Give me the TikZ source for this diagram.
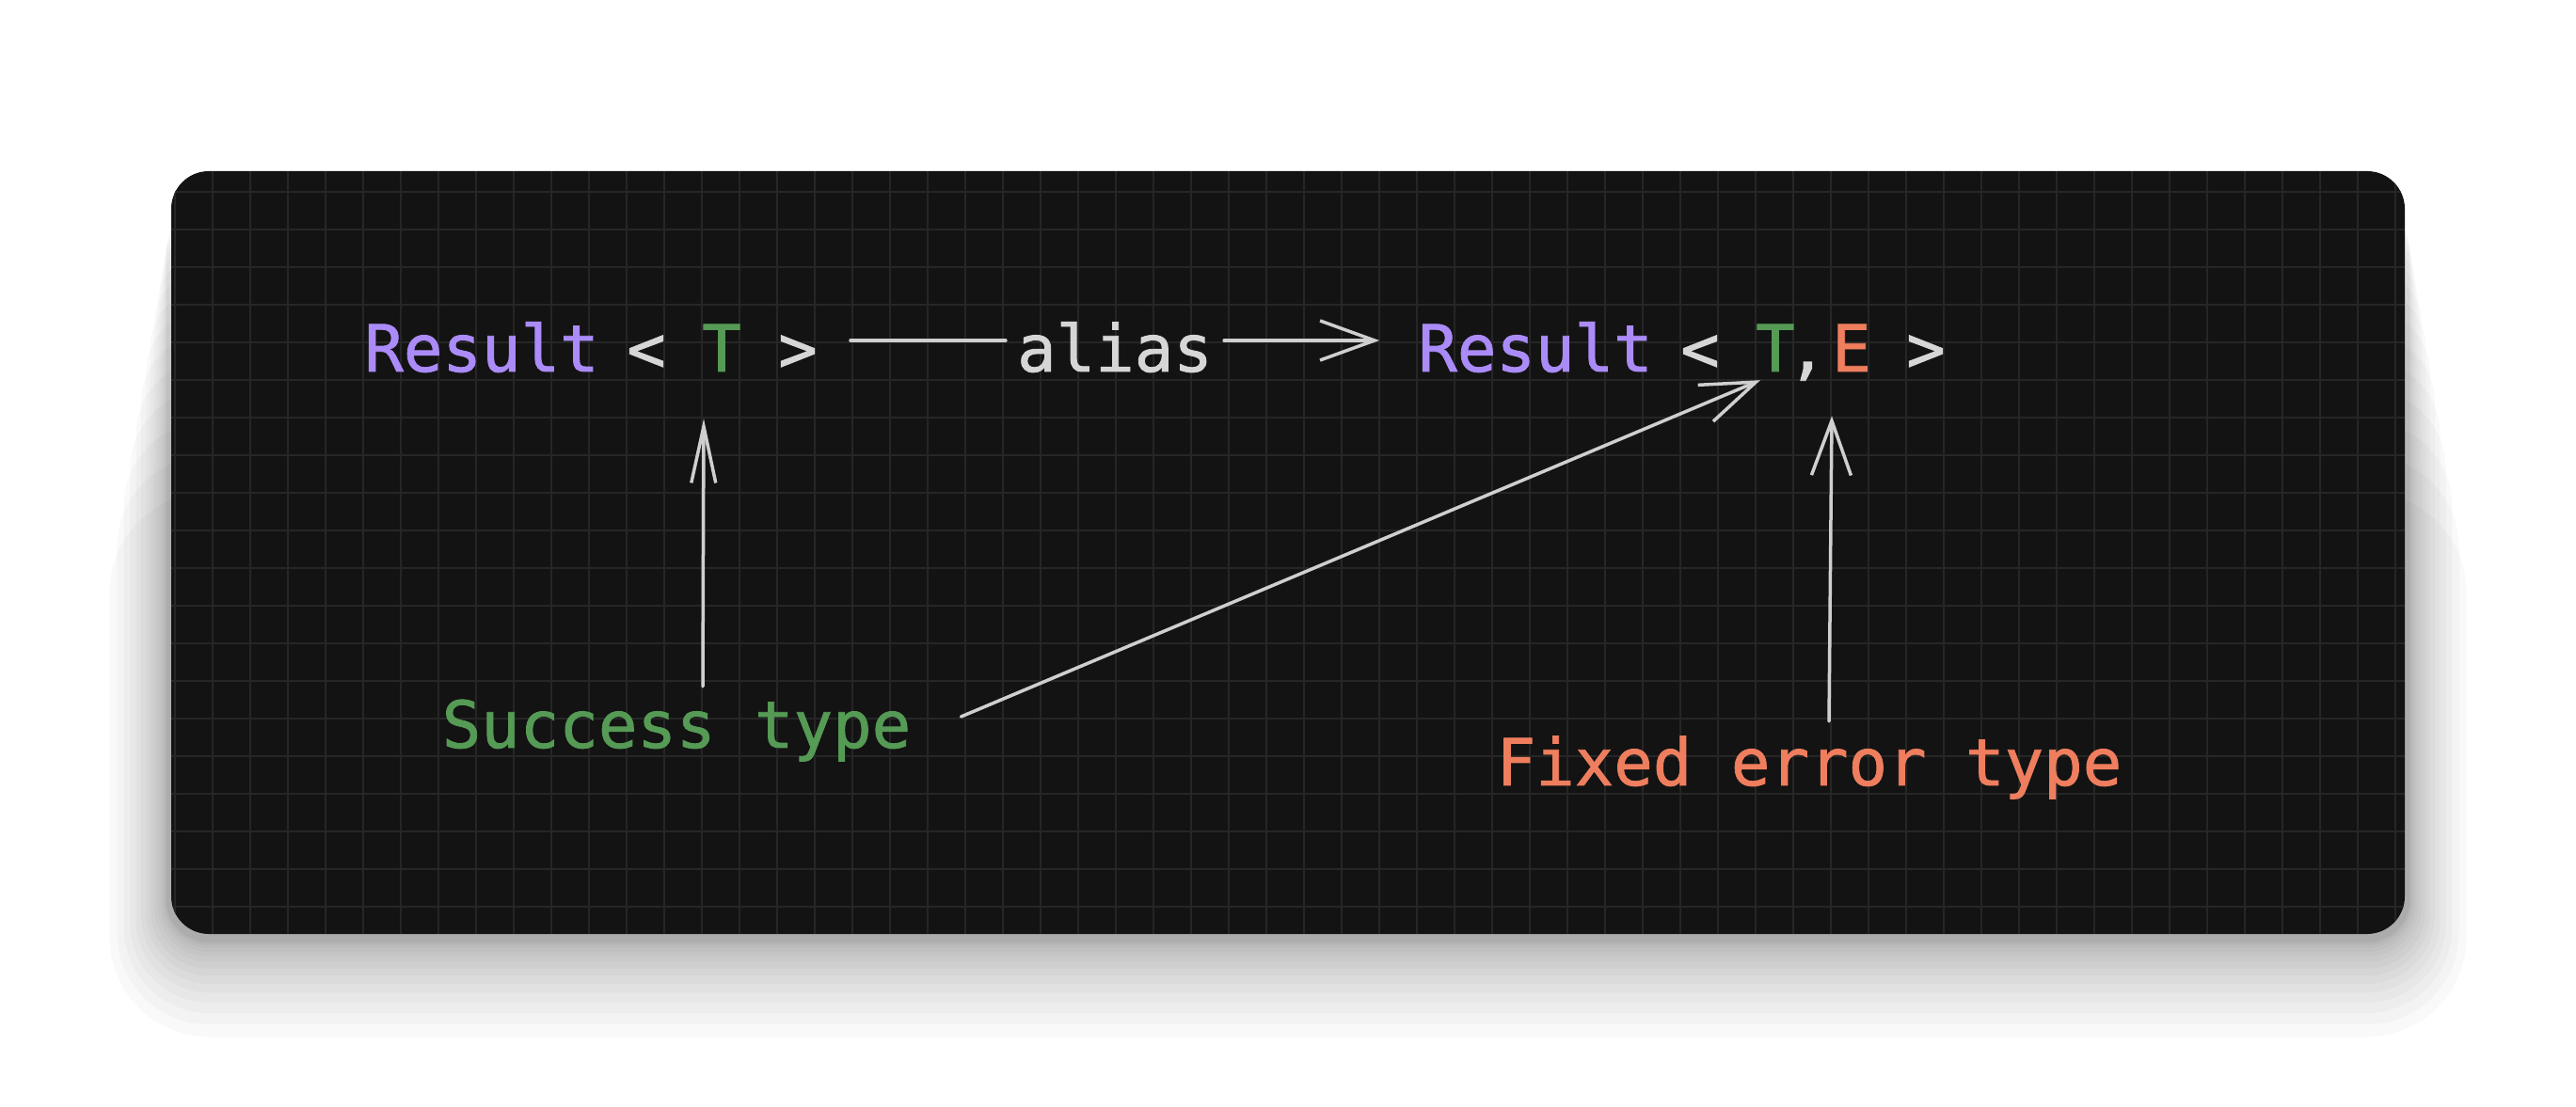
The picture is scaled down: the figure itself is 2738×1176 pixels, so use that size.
\documentclass[tikz,border=0pt]{standalone}
\usepackage{fontspec}
\newfontfamily\codefont[FakeBold=1.2]{DejaVu Sans Mono}
\usetikzlibrary{arrows.meta}
\definecolor{panelbg}{HTML}{131313}
\definecolor{gridgray}{HTML}{262626}
\definecolor{resultpurple}{HTML}{AB8BF8}
\definecolor{typegreen}{HTML}{559A55}
\definecolor{errorange}{HTML}{EE7E5E}
\definecolor{codegray}{HTML}{D6D6D6}
\definecolor{linegray}{HTML}{CFCFCF}
\tikzset{code/.style={font=\codefont\fontsize{69pt}{80pt}\selectfont,inner sep=0pt,text height=70pt,text depth=4pt,anchor=base}}
\tikzset{sketch/.style={draw=linegray,line width=3.5pt,line cap=round}}
\tikzset{arrow/.style={sketch,-{Straight Barb[length=58pt,width=42pt]}}}

\begin{document}
\begin{tikzpicture}[x=1pt,y=1pt]
\useasboundingbox (0,0) rectangle (2738,1176);
\fill[white] (0,0) rectangle (2738,1176);
% soft shadow under the panel
\foreach \i [evaluate=\i as \e using 8+0.45*\i*\i, evaluate=\i as \r using 40+0.6*(8+0.45*\i*\i)] in {1,...,15}
  \fill[black,opacity=0.024,rounded corners=\r pt] (182-0.6*\e,183-\e) rectangle (2556+0.6*\e,980-3*\e);
\fill[panelbg,rounded corners=40pt] (182,183) rectangle (2556,994);
\begin{scope}
\clip[rounded corners=40pt] (182,183) rectangle (2556,994);
\foreach \x in {186,226,...,2546} \draw[gridgray,line width=2pt] (\x,183) -- (\x,994);
\foreach \y in {212,252,...,972} \draw[gridgray,line width=2pt] (182,\y) -- (2556,\y);
\end{scope}

\node[code,text=resultpurple] (res1) at (512,781) {Result};
\node[code,text=codegray] (lt1) at (687,781) {<};
\node[code,text=typegreen] (t1) at (767,781) {T};
\node[code,text=codegray] (gt1) at (848,781) {>};
\node[code,text=codegray] (alias) at (1185,781) {alias};
\node[code,text=resultpurple] (res2) at (1632,781) {Result};
\node[code,text=codegray] (lt2) at (1807,781) {<};
\node[code,text=typegreen] (t2) at (1887,781) {T};
\node[code,text=codegray] (comma) at (1921,781) {,};
\node[code,text=errorange] (e2) at (1968,781) {E};
\node[code,text=codegray] (gt2) at (2047,781) {>};
\node[code,text=typegreen] (success) at (719,381) {Success type};
\node[code,text=errorange] (fixed) at (1923,341) {Fixed error type};

\draw[sketch,shorten <=35pt,shorten >=12pt] (gt1.east) -- (alias.west);
\draw[arrow,shorten <=12pt,shorten >=41pt] (alias.east) -- (res2.west);
\draw[arrow,-{Straight Barb[length=60pt,width=26pt]}] ([xshift=28pt,yshift=-5pt]success.north) -- ([xshift=-19pt,yshift=-46pt]t1.south);
\draw[arrow] ([xshift=53pt]success.east) -- ([xshift=-16pt,yshift=-5pt]t2.south);
\draw[arrow] ([xshift=21pt,yshift=-2pt]fixed.north) -- ([xshift=-21pt,yshift=-43pt]e2.south);
\end{tikzpicture}
\end{document}
